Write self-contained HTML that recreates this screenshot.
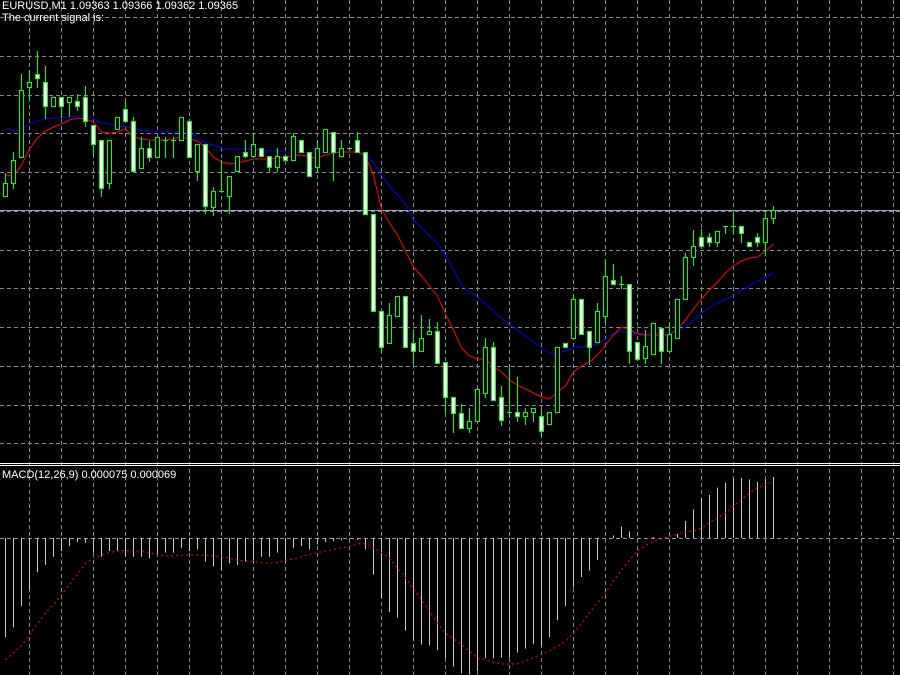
<!DOCTYPE html>
<html><head><meta charset="utf-8"><style>
html,body{margin:0;padding:0;background:#000;}
svg{display:block;}
text{font-family:"Liberation Sans",sans-serif;font-size:11px;fill:#fff;}
</style></head><body>
<svg id="chart" width="900" height="675" xmlns="http://www.w3.org/2000/svg">
<rect x="0" y="0" width="900" height="675" fill="#000"/>
<g id="grid"></g>
<g id="main"></g>
<g id="macd"></g>
<line x1="0" y1="463.5" x2="900" y2="463.5" stroke="#fff" stroke-width="1"/>
<line x1="0" y1="465.5" x2="900" y2="465.5" stroke="#fff" stroke-width="1"/>
<text x="2" y="9">EURUSD,M1  1.09363 1.09366 1.09362 1.09365</text>
<text x="2" y="21">The current signal is:</text>
<text x="2" y="478">MACD(12,26,9) 0.000075 0.000069</text>
</svg>
<script>
// price data in points above 1.09000
const opens=[379,392,418,488,501,493,469,478,473,474,478,450,435,392,446,466,454,407,427,418,435,435,435,454,404,431,368,384,379,404,423,419,427,419,408,419,415,435,423,408,423,443,419,427,435,423,361,264,232,259,279,232,224,241,244,213,178,162,147,154,182,228,178,163,163,159,163,159,151,163,232,237,276,244,233,259,295,291,291,233,217,221,247,224,237,276,318,338,338,333,349,349,349,333,338,333,357];
const highs=[402,423,501,505,524,509,478,478,478,481,489,450,435,435,458,474,458,438,434,438,438,438,458,454,431,431,388,415,399,419,435,442,427,419,427,419,442,435,423,435,446,443,435,427,443,423,361,264,272,279,279,244,260,256,253,213,178,171,167,186,237,233,189,208,198,167,167,166,163,228,232,280,276,244,272,315,311,299,291,233,245,252,247,252,276,322,345,346,342,344,349,363,349,333,342,363,369];
const lows=[379,387,418,476,488,457,469,458,459,465,449,422,379,387,446,454,404,407,414,418,418,418,435,418,395,362,360,384,362,404,418,419,419,404,404,415,415,423,399,403,423,395,419,427,423,361,264,224,232,259,228,212,224,241,212,163,143,147,143,154,178,175,150,158,154,151,154,139,151,163,228,237,241,211,233,253,291,287,212,216,212,221,212,224,237,276,310,329,329,329,342,342,333,329,329,320,352];
const closes=[392,415,485,493,497,469,478,469,478,469,454,431,387,435,458,454,404,427,418,438,435,435,458,418,431,369,384,384,399,419,419,431,419,408,419,415,439,423,399,427,446,423,427,427,423,361,264,228,260,279,228,224,237,244,212,178,162,147,154,186,228,175,155,163,159,163,167,144,163,228,228,276,241,228,264,299,291,291,224,216,229,252,224,241,276,318,329,329,333,344,349,349,342,329,333,357,365];
const maFast=[400,399,410,426,437,444,448,451,455,457,456,453,443,442,443,446,438,436,435,435,435,436,438,436,434,427,418,413,411,412,414,416,416,416,417,418,419,420,418,417,420,422,423,423,423,419,400,366,352,340,324,308,299,289,279,261,245,227,219,216,216,208,203,195,190,186,182,178,176,183,189,203,209,213,220,230,240,248,245,241,240,240,240,240,246,255,266,276,285,293,302,309,314,317,318,324,331];
const maSlow=[447,444,446,451,454,456,457,457,458,459,459,456,452,451,449,448,447,445,444,444,443,443,443,442,437,432,430,427,426,426,426,425,425,424,424,423,423,423,422,422,423,423,423,423,423,421,412,400,389,380,371,355,347,339,332,320,305,290,283,278,271,264,257,250,245,239,233,227,222,222,224,227,228,229,231,236,241,244,242,242,242,242,242,242,244,248,255,262,267,272,276,279,285,289,294,298,302];
const currentPrice=365;
// MACD values in millionths
const macdHist=[-122,-110,-84,-63,-42,-33,-23,-16,-10,-5,-6,-18,-23,-16,-16,-23,-23,-23,-25,-21,-18,-18,-12,-16,-14,-29,-35,-39,-31,-33,-29,-27,-23,-23,-18,-29,-12,-10,-14,-8,-5,-4,-3,-1,-2,-14,-45,-74,-91,-98,-114,-126,-131,-132,-138,-148,-158,-166,-168,-164,-148,-148,-147,-147,-141,-136,-130,-132,-122,-101,-84,-61,-48,-40,-27,0,3,14,8,0,0,1,0,0,5,21,35,48,53,62,68,73,74,72,69,72,75];
const macdSignal=[-150,-141,-133,-119,-105,-92,-82,-70,-57,-45,-31,-25,-21,-18,-16,-15,-16,-16,-18,-21,-22,-22,-21,-21,-21,-21,-22,-23,-25,-27,-28,-29,-30,-31,-30,-27,-26,-23,-20,-18,-16,-14,-12,-11,-7,-7,-12,-18,-25,-37,-49,-63,-76,-90,-105,-117,-124,-131,-139,-148,-150,-153,-155,-155,-155,-151,-147,-143,-139,-133,-127,-117,-105,-92,-80,-68,-53,-39,-27,-16,-9,-4,-1,2,4,7,9,12,19,25,31,39,47,55,62,66,69];

const NS="http://www.w3.org/2000/svg";
function xOf(i){return 5+8*i;}
function yP(p){return 575-p;}
function yM(v){return 538-v*0.813;}
function mk(tag,attrs,parent){const e=document.createElementNS(NS,tag);for(const k in attrs)e.setAttribute(k,attrs[k]);parent.appendChild(e);return e;}
const grid=document.getElementById('grid'),main=document.getElementById('main'),macd=document.getElementById('macd');

for(let x=29;x<900;x+=32){
  const l=mk('line',{x1:x+0.5,y1:0,x2:x+0.5,y2:675,stroke:'#7f8896','stroke-width':1,'stroke-dasharray':'4 3'},grid);
  
  
}
for(let k=0;k<12;k++){
  const y=Math.round(17+38.75*k)+0.5;
  const l=mk('line',{x1:0,y1:y,x2:900,y2:y,stroke:'#7f8896','stroke-width':1,'stroke-dasharray':'4 3'},grid);
  
  
}
const zl=mk('line',{x1:0,y1:538.5,x2:900,y2:538.5,stroke:'#8a96a6','stroke-width':1,'stroke-dasharray':'4 3'},grid);


const pl=mk('line',{x1:0,y1:yP(currentPrice)+0.5,x2:900,y2:yP(currentPrice)+0.5,stroke:'#9aa4b2','stroke-width':1},main);



function poly(arr,fy,color,dash,name,parent){
  let d='';arr.forEach((v,i)=>{d+=(i?'L':'M')+(xOf(i)+0.5)+' '+fy(v).toFixed(1);});
  const p=mk('path',{d:d,fill:'none',stroke:color,'stroke-width':1},parent);
  if(dash)p.setAttribute('stroke-dasharray',dash);
  
  
}
poly(maSlow,yP,'#0000ee',null,'slow-moving-average',main);
poly(maFast,yP,'#ff0000',null,'fast-moving-average',main);

for(let i=0;i<opens.length;i++){
  const x=xOf(i),o=opens[i],c=closes[i];
  const g=mk('g',{},main);
  
  
  mk('line',{x1:x+0.5,y1:yP(highs[i]),x2:x+0.5,y2:yP(lows[i])+1,stroke:'#00ff00','stroke-width':1},g);
  const top=yP(Math.max(o,c)),bot=yP(Math.min(o,c));
  const bear=c<o;
  if(bot-top<1){
    mk('line',{x1:x-2,y1:top+0.5,x2:x+3,y2:top+0.5,stroke:'#00ff00','stroke-width':1},g);
  } else {
    mk('rect',{x:x-1.5,y:top+0.5,width:4,height:bot-top,fill:bear?'#ffffff':'#000000',stroke:'#00ff00','stroke-width':1},g);
  }
}

macdHist.forEach((v,i)=>{
  if(v===0)return;
  const x=xOf(i)+0.5;
  const l=mk('line',{x1:x,y1:538,x2:x,y2:yM(v),stroke:'#c8c8c8','stroke-width':1},macd);
  
  
});
poly(macdSignal,yM,'#ff0000','2 3','macd-signal-line',macd);
</script>
</body></html>
